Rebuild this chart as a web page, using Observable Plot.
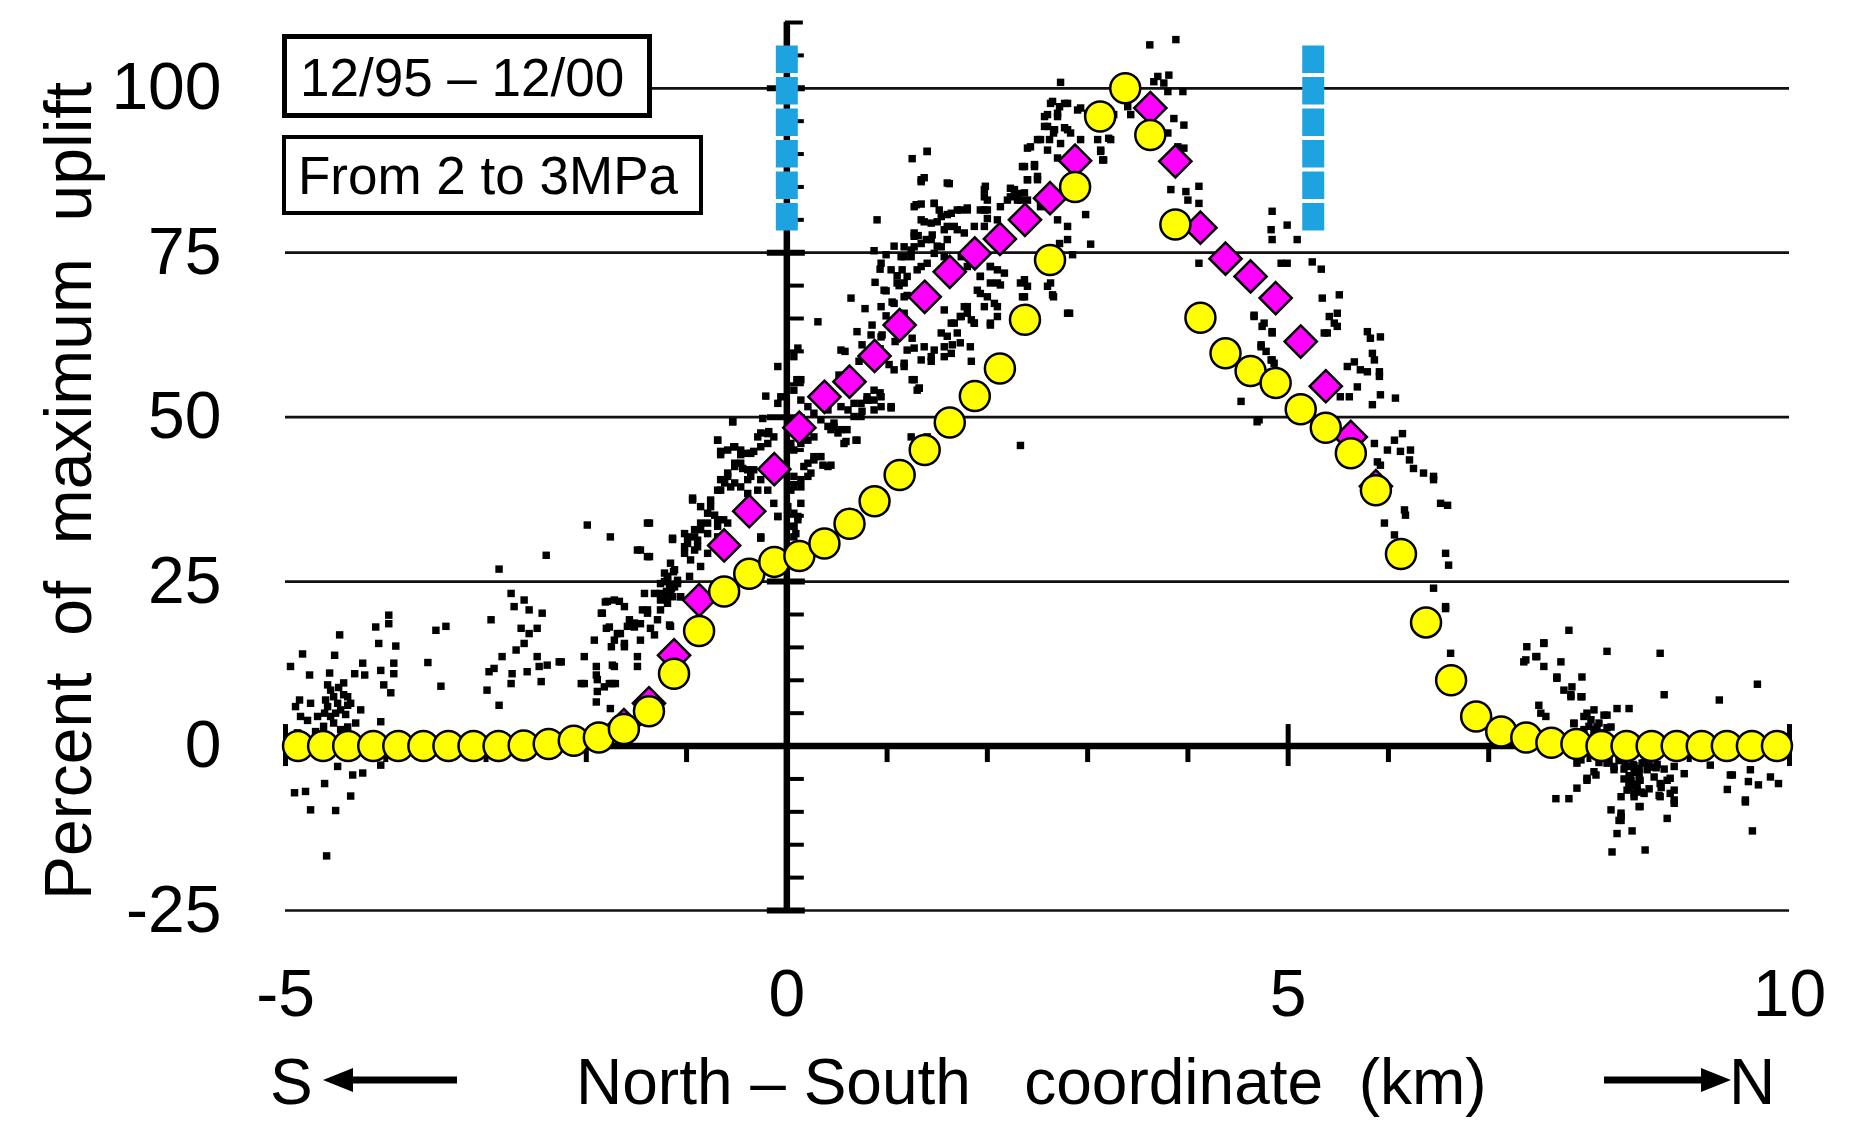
<!DOCTYPE html>
<html><head><meta charset="utf-8">
<script src="https://cdn.jsdelivr.net/npm/d3@7"></script>
<script src="https://cdn.jsdelivr.net/npm/@observablehq/plot@0.6"></script>
<style>
body{margin:0;background:#fff;}
#wrap{position:relative;width:1851px;height:1139px;font-family:"Liberation Sans",Arial,sans-serif;color:#000;overflow:hidden;}
#wrap svg{position:absolute;left:0;top:0;}
.box{position:absolute;box-sizing:border-box;border-style:solid;border-color:#000;background:#fff;white-space:pre;font-size:53px;line-height:53px;}
.lab{position:absolute;white-space:pre;font-size:64px;line-height:64px;}
#ytitle{position:absolute;white-space:pre;font-size:66px;line-height:66px;left:68px;top:491px;transform:translate(-50%,-50%) rotate(-90deg);}
.arrow{position:absolute;}
</style></head>
<body><div id="wrap"></div>
<script>
// ---- data ----
const periodLabel = "12/95 \u2013 12/00";
const pressureLabel = "From 2 to 3MPa";
const yTitle = "Percent  of  maximum  uplift";
const xTitle = "North \u2013 South   coordinate  (km)";
const southLabel = "S";
const northLabel = "N";

const xTicks = [-5, 0, 5, 10];
const yTicks = [-25, 0, 25, 50, 75, 100];
const gridPct = [100, 75, 50, 25, -25];
const xMinorKm = [-4, -3, -2, -1, 1, 2, 3, 4, 6, 7, 8, 9];
const xMajorKm = [-5, 5, 10];
const yMinorPct = [-20, -15, -10, -5, 5, 10, 15, 20, 30, 35, 40, 45, 55, 60, 65, 70, 80, 85, 90, 95, 105];
const yMajorPct = [-25, 25, 50, 75, 100];
const yTopPct = [110];
const axisKm = 0;
const yAxisFrom = -25, yAxisTo = 110;

const blueKm = [0, 5.25];
const blueFrom = 78.3, blueTo = 106.5;

const modelKm = [-4.875,-4.625,-4.375,-4.125,-3.875,-3.625,-3.375,-3.125,-2.875,-2.625,
  -2.375,-2.125,-1.875,-1.625,-1.375,-1.125,-0.875,-0.625,-0.375,-0.125,
  0.125,0.375,0.625,0.875,1.125,1.375,1.625,1.875,2.125,2.375,
  2.625,2.875,3.125,3.375,3.625,3.875,4.125,4.375,4.625,4.875,
  5.125,5.375,5.625,5.875,6.125,6.375,6.625,6.875,7.125,7.375,
  7.625,7.875,8.125,8.375,8.625,8.875,9.125,9.375,9.625,9.875];
const yellowPct = [0,0,0,0,0,0,0,0,0,0.1,
  0.3,0.8,1.3,2.6,5.3,11,17.5,23.5,26.2,28,
  28.9,30.8,33.8,37.2,41.2,45,49.2,53.2,57.4,64.8,
  73.9,85,95.7,100,92.9,79.3,65.1,59.7,57,55.2,
  51.2,48.4,44.5,38.9,29.2,18.8,10,4.5,2.2,1.3,
  0.5,0.3,0,0,0,0,0,0,0,0];

const magentaKm = [-1.625,-1.375,-1.125,-0.875,-0.625,-0.375,-0.125,0.125,0.375,0.625,
  0.875,1.125,1.375,1.625,1.875,2.125,2.375,2.625,2.875,3.625,
  3.875,4.125,4.375,4.625,4.875,5.125,5.375,5.625,5.875];
const magentaPct = [3.2,6.5,13.8,22.2,30.5,35.7,42.1,48.4,53.1,55.4,
  59.3,64,68.3,72.1,74.9,77.1,80,83.3,89,97,
  88.9,78.8,74.1,71.4,68.1,61.5,54.7,47,39.5];

const observed = [
[-1.99,33.6],[-1.76,31.8],[-1.39,33.9],[-1.14,31.4],[-1.49,29.8],[-1.37,28.8],[-2.40,29.0],[-2.87,26.9],
[-1.19,25.7],[-1.17,24.5],[-1.20,23.5],[-1.15,24.0],[-1.22,25.0],[-1.16,22.8],[-1.13,26.5],
[-1.42,23.2],[-1.26,22.2],[-1.14,22.7],[-1.39,20.7],[-1.26,20.7],[-1.17,18.4],[-1.81,21.9],[-1.72,22.2],[-1.62,21.2],[-1.84,20.2],[-1.77,18.1],[-1.69,17.1],[-1.62,15.6],[-1.52,18.1],[-1.46,18.6],[-1.36,17.9],[-1.32,16.9],[-1.92,16.1],[-1.72,16.1],[-1.57,19.2],[-1.49,13.6],[-1.49,12.1],[-2.02,13.6],[-1.90,12.1],[-1.74,12.3],[-1.90,10.8],[-2.02,9.5],[-1.89,8.3],[-1.77,9.5],[-1.71,9.5],[-1.90,6.7],[-1.76,5.7],
[-2.75,23.2],[-2.72,21.2],[-2.62,22.2],[-2.57,20.7],[-2.44,20.2],[-2.95,19.2],[-2.65,17.9],[-2.49,17.9],[-2.57,17.1],[-2.62,15.6],[-2.70,14.6],[-2.84,13.6],[-2.92,11.8],[-2.97,11.3],[-2.74,11.0],[-2.59,11.3],[-2.47,12.1],[-2.39,12.3],[-2.27,12.8],[-2.49,13.6],[-2.45,9.8],[-2.75,9.5],[-2.99,8.5],[-2.87,6.2],[-3.58,12.7],
[-4.46,16.9],[-4.10,18.1],[-3.97,19.9],[-3.97,18.6],[-3.50,17.6],[-3.40,18.2],[-4.07,15.6],[-3.90,15.2],[-3.45,9.1],[-4.83,14.0],[-4.51,13.8],[-4.95,12.1],[-4.76,10.8],[-4.56,11.1],[-4.31,11.0],[-4.23,12.6],[-4.21,10.8],[-4.05,11.5],[-3.92,12.6],[-3.92,11.0],[-4.02,9.3],[-3.95,8.1],[-4.05,3.7],[-4.86,7.0],[-4.75,6.5],
[-4.55,8.5],[-4.52,7.5],[-4.48,6.5],[-4.58,6.0],[-4.45,5.5],[-4.50,5.0],[-4.42,7.8],[-4.60,7.0],[-4.38,6.2],[-4.55,4.5],[-4.47,8.9],[-4.40,4.8],
[-4.38,7.5],[-4.25,5.5],[-4.61,5.0],[-4.35,6.5],[-4.78,3.9],[-4.68,4.5],[-4.85,4.5],[-4.38,2.9],[-4.90,6.0],
[-4.52,3.5],[-4.45,2.5],[-4.62,3.0],[-4.30,3.5],[-4.70,2.2],[-4.88,2.0],[-4.42,9.6],[-4.58,9.3],
[-4.48,-3.1],[-4.33,-4.4],[-4.23,-4.1],[-4.61,-5.7],[-4.91,-7.1],[-4.80,-6.9],[-4.35,-7.6],[-4.75,-9.7],[-4.50,-9.8],[-4.59,-16.7],[-4.05,-2.9],
[-0.21,53.2],[-0.09,52.1],[-0.24,49.8],[-0.54,49.3],[0.07,54.1],[0.14,52.6],[0.21,51.6],[0.27,50.6],[0.34,49.6],[0.41,48.6],[0.47,49.1],[0.54,48.1],[0.61,51.1],[0.67,50.1],[0.74,52.1],[0.80,53.1],[0.87,52.6],[0.94,51.6],[1.04,51.4],[1.32,54.4],
[0.59,46.3],[0.69,46.5],[0.44,48.1],[0.51,47.6],[0.27,47.0],[0.21,46.5],[0.14,46.0],[0.04,46.0],[0.07,45.0],[0.27,43.5],[0.34,44.0],[0.41,42.5],[0.21,41.0],[0.14,40.5],[0.14,39.4],[0.04,38.9],[0.01,36.4],[0.07,35.4],[0.11,34.4],[0.07,33.4],[0.07,31.8],[-0.09,34.9],[-0.26,31.8],
[-0.26,47.6],[-0.18,47.8],[-0.13,47.0],[-0.19,46.0],[-0.26,45.5],[-0.36,44.5],[-0.46,44.3],[-0.52,45.5],[-0.59,45.0],[-0.69,46.5],[-0.66,44.8],[-0.44,42.2],[-0.52,43.0],[-0.59,41.5],[-0.66,40.5],[-0.52,40.0],[-0.39,40.5],[-0.26,40.5],[-0.19,38.9],[-0.33,42.0],[-0.69,38.9],[-0.76,37.4],[-0.86,36.4],[-0.79,35.4],[-0.69,34.4],[-0.59,33.9],[-0.86,33.9],[-0.92,32.9],[-0.79,32.3],[-0.99,31.8],[-1.02,30.3],[-0.92,29.8],[-0.79,29.3],[-0.89,31.3],[-0.69,31.8],[-0.94,37.7],
[-1.16,27.8],[-1.22,26.3],[-1.19,25.2],[-1.12,24.2],[-1.06,22.7],[-1.26,23.2],[-1.19,21.7],[-1.09,25.2],[-1.16,23.2],[-1.44,20.7],[-1.39,20.2],[-1.29,19.2],[-1.16,18.2],[-1.67,22.0],[-1.79,22.0],[-1.85,20.2],[-1.80,17.9],[-1.66,17.1],[-1.59,18.2],[-1.52,18.7],[-1.46,16.1],[-1.75,15.1],[-1.62,15.1],[-1.72,12.1],[-1.89,10.1],[-2.05,9.5],[-1.82,9.0],[-1.74,9.5],[-2.25,12.8],[-0.26,31.6],[-0.86,27.3],[-0.97,25.8],
[0.11,60.5],[0.07,59.2],[-0.09,57.7],[0.54,60.2],[0.14,55.7],[-0.06,53.1],[-0.54,49.3],[-0.29,47.0],[-0.19,47.5],[-0.69,46.5],[-0.66,44.3],[-0.53,45.5],[-0.46,45.0],[-0.39,44.5],[-0.33,44.8],[-0.46,43.0],[-0.52,42.5],[-0.39,42.0],[-0.36,41.0],[-0.59,41.0],[-0.62,40.0],[-0.66,38.9],[-0.56,39.4],[-0.46,39.4],[-0.39,38.4],[-0.29,38.9],
[-0.76,36.4],[-0.72,35.1],[-0.79,33.9],[-0.69,33.4],[-0.63,34.4],[-0.86,32.9],[-0.92,31.8],[-0.99,30.8],[-0.89,30.3],[-1.02,29.3],[-0.96,28.3],[-1.12,26.8],[-1.19,25.8],[-1.26,24.7],[-1.16,23.7],[-1.09,24.7],[-1.32,23.2],[-1.22,22.7],[-1.06,22.7],[-1.37,33.9],[-1.46,29.8],[-1.39,28.8],[-1.14,31.6],[-1.02,32.3],[-0.94,37.4],[-0.09,34.9],[-0.13,36.9],
[0.07,41.0],[0.07,39.4],[0.17,42.5],[0.14,36.9],[0.11,34.9],[0.07,33.4],[0.09,32.3],[0.27,44.0],[0.21,43.0],[0.36,42.7],[0.44,42.7],[0.24,41.5],[0.47,48.6],[0.60,48.1],[0.70,46.5],[0.57,46.0],[0.41,51.1],[0.54,51.6],[0.67,52.1],[0.80,52.6],[0.87,51.1],[0.74,50.1],[0.87,54.1],[0.94,53.1],[1.04,51.6],[1.17,58.2],[1.07,57.2],[1.27,55.7],[1.30,54.1],[0.84,62.5],[0.94,62.2],
[3.62,106.6],[3.88,107.4],[2.73,100.9],[3.70,101.8],[3.81,102.0],[3.66,101.0],[3.76,100.8],[3.80,99.5],[3.95,99.5],[2.65,98.0],[2.72,97.2],[2.80,97.7],[2.60,96.0],[2.70,95.7],[2.57,94.2],[2.67,93.7],[2.77,94.0],[2.83,93.2],[2.93,92.2],[2.62,92.2],[2.50,92.2],[2.40,90.9],[2.70,89.4],[2.47,88.4],[2.35,88.1],[2.93,97.0],[3.00,96.2],[3.26,96.0],[3.10,92.2],[3.21,92.4],[3.13,90.4],[3.15,89.1],[3.40,97.2],[3.43,96.0],[3.86,95.4],[3.96,94.4],[3.80,93.2],[3.90,91.1],[3.96,90.9],[3.83,84.6],[3.98,84.3],[4.00,83.0],[4.11,85.1],[4.11,82.5],[4.84,81.3],[4.83,78.5],[4.99,79.2],[4.84,77.0],[5.09,77.0],[4.93,73.4],[4.99,73.4],[4.11,73.4],[4.66,65.3],[4.74,63.8],[4.84,62.8],[4.73,61.0],[4.83,58.7],[4.86,58.2],[4.53,52.4],[4.71,49.6],
[2.63,97.7],[2.77,97.7],[2.70,96.2],[2.57,95.7],[2.60,94.2],[2.66,93.2],[2.80,93.7],[2.53,92.2],[2.43,91.1],[2.60,90.6],[2.73,91.6],[2.90,96.7],[3.23,92.2],[3.13,90.6],[3.16,89.1],
[2.37,88.1],[2.47,88.1],[2.40,86.1],[2.50,86.1],[2.27,84.6],[2.37,84.1],[2.20,83.0],[2.30,83.0],[1.97,84.6],[2.00,83.0],[1.93,81.5],[2.00,81.5],[1.34,86.1],[1.60,85.6],[1.40,90.4],
[1.25,89.3],[1.40,90.4],[1.34,85.8],[1.62,85.5],[1.98,85.1],[1.97,83.5],[2.23,84.8],[2.30,84.0],[2.33,83.0],[2.40,86.1],[2.50,86.6],[2.23,83.5],[2.13,82.0],[1.97,81.5],[2.00,80.2],[1.29,82.3],[1.47,82.5],[1.52,81.5],[1.70,81.5],[1.80,81.8],[1.60,80.8],[1.50,79.7],[1.37,79.7],[1.27,78.0],[1.39,77.0],[1.45,77.7],[1.57,78.5],[1.67,79.0],[1.77,78.0],[1.87,79.0],[1.97,79.0],[2.10,80.0],[2.40,83.0],[2.53,82.0],
[1.27,82.0],[1.47,82.5],[1.34,80.0],[1.44,79.5],[1.54,80.5],[1.64,81.0],[1.73,81.5],[1.80,81.5],[1.60,79.0],[1.70,78.5],[1.27,77.5],[1.34,76.4],[1.24,75.4],[1.07,76.0],[1.44,77.0],[1.50,76.0],[1.60,77.0],[0.94,73.4],[1.04,72.4],[1.14,74.4],[0.97,69.3],[1.10,70.4],[1.20,71.4],[1.30,72.4],[1.40,73.4],[0.94,66.8],[1.07,67.3],[1.17,68.3],[1.37,69.3],
[1.27,75.9],[1.24,74.4],[1.17,74.4],[1.15,72.4],[1.17,70.4],[1.34,72.9],[1.47,74.9],[1.54,75.9],[1.57,74.4],[1.74,74.4],[1.80,72.9],[1.93,74.9],[2.03,72.9],[2.10,72.4],[2.17,71.9],[1.93,71.4],[2.03,70.4],[2.13,70.1],[1.93,68.8],[1.97,66.8],[2.07,67.3],[2.10,65.3],[2.03,64.0],[1.80,65.8],[1.87,64.3],[1.74,65.3],[1.64,64.3],[1.57,66.3],[1.77,66.8],[1.84,64.8],[1.70,62.8],[1.65,61.0],[1.54,62.8],[1.47,60.2],[1.37,60.7],[1.27,60.5],[1.20,60.2],[1.34,58.7],[1.44,58.5],[1.64,59.7],[1.84,58.5],[1.57,59.2],[1.25,55.7],[1.32,54.4],[1.17,57.7],
[1.93,71.4],[2.03,72.9],[2.10,70.4],[1.90,69.3],[2.00,68.3],[1.80,66.8],[1.73,65.3],[1.87,64.3],[1.67,64.3],[1.60,62.3],[1.73,61.3],[1.57,60.7],[1.44,59.2],[1.83,60.7],[2.33,70.4],[2.37,68.3],[2.63,70.4],[2.66,68.3],[2.10,66.8],[2.03,64.3],[2.80,65.8],
[2.37,70.9],[2.40,69.9],[2.35,68.3],[2.60,69.9],[2.65,68.6],[2.82,65.8],[2.70,74.4],[2.85,74.7],[2.72,76.4],[3.03,76.3],[2.80,77.0],[2.98,80.8],[2.70,80.0],[2.80,79.0],[1.40,47.0],[1.24,47.0],[2.33,45.7],
[0.90,80.0],[1.37,86.4],[1.34,82.4],[0.87,75.3],[0.99,74.7],[1.17,75.9],[1.31,77.6],[0.93,72.5],[1.10,71.5],[0.99,69.2],[0.64,68.1],[0.78,66.5],[0.31,64.5],[0.99,65.4],[1.17,65.8],[1.25,62.0],[0.75,61.0],[0.93,60.4],[0.87,58.1],[0.66,56.0],[0.52,56.4],[0.81,52.6],[0.75,50.9],[0.93,53.7],[0.10,55.7],
[0.70,63.0],[0.85,64.0],[1.05,67.5],[1.12,70.0],[0.95,62.5],[1.02,58.0],[0.58,60.0],[0.72,58.5],[1.08,61.5],[0.88,70.5],[1.20,68.5],
[5.34,68.1],[5.51,68.6],[5.41,65.3],[5.49,65.8],[5.49,63.8],[5.39,62.8],[5.46,64.3],[5.36,62.8],[4.66,65.5],[4.76,64.3],[4.84,63.0],[4.73,60.7],[4.78,60.0],[4.84,58.7],[5.79,63.0],[5.82,62.0],[5.92,62.2],[5.84,59.7],[5.86,58.7],[5.59,57.7],[5.66,58.4],[5.72,57.2],[5.79,56.9],[5.91,56.9],[5.91,56.2],[5.69,54.6],[5.61,53.1],[5.92,53.4],[5.84,51.9],[6.07,52.9],[5.52,53.1],[4.69,49.3],[6.14,47.5],[6.06,46.5],[5.99,45.0],[6.12,44.8],[6.22,45.0],[6.21,43.5],[6.25,42.2],[6.35,41.5],[6.45,41.0],[6.45,40.5],[5.86,46.0],[5.89,43.2],[5.92,42.7],[6.52,36.9],[6.59,36.6],[6.16,35.9],[6.17,35.1],[5.96,33.9],[6.06,32.1],[6.57,29.3],[6.60,27.5],[6.45,24.0],[6.57,20.9],[6.62,14.1],[5.24,73.6],[5.33,72.5],
[7.80,17.6],[7.55,15.6],[7.38,15.1],[7.37,13.1],[7.48,13.6],[7.72,12.8],[7.55,12.1],[8.18,14.4],[7.93,10.5],[7.68,10.5],
[6.57,21.2],[7.55,15.7],[7.35,12.8],[7.47,13.6],[7.68,10.3],[7.75,8.5],[7.83,9.0],[7.82,7.5],[7.93,7.5],[7.50,6.2],[7.52,5.0],[7.57,4.5],[8.71,14.1],[8.75,7.8],[9.30,7.0],[9.68,9.4],[8.28,5.7],[8.40,5.7],[7.98,5.0],[8.05,5.5],[8.02,4.0],[7.95,4.5],[8.08,2.9],[7.85,3.5],[8.18,4.7],[8.22,2.9],
[8.05,1.5],[8.12,2.0],[8.00,1.0],[8.15,0.8],[8.00,3.0],[8.05,2.5],[8.10,3.5],[8.08,1.8],[7.95,2.5],[8.12,1.2],[8.18,2.8],[7.92,7.5],[7.82,7.8],[8.15,4.7],[7.85,3.4],
[7.88,-2.6],[8.07,-4.4],[7.98,-5.2],[7.88,-6.4],[7.67,-8.0],[7.80,-8.0],[8.18,-2.6],[8.25,-3.6],[8.38,-3.1],[8.41,-4.7],[8.48,-6.2],[8.45,-7.2],[8.51,-5.2],[8.58,-3.6],[8.65,-4.7],[8.71,-5.7],[8.78,-5.2],[8.85,-3.1],[8.81,-7.2],[8.85,-8.2],[8.70,-7.5],[8.32,-7.7],[8.22,-9.7],[8.32,-10.2],[8.32,-11.3],[8.50,-9.2],[8.28,-13.3],[8.43,-12.9],[8.23,-16.1],[8.56,-15.8],[8.78,-11.0],[8.95,-4.2],[9.21,-2.9],[9.43,-4.4],[9.38,-6.6],[9.59,-5.4],[9.69,-5.9],[9.81,-4.7],[9.89,-5.7],[9.56,-8.5],[9.63,-12.9],[9.61,-3.6],
[8.45,-3.0],[8.50,-4.0],[8.55,-2.5],[8.62,-3.2],[8.40,-5.5],[8.60,-6.5],[8.68,-2.8],[8.75,-3.5],[8.35,-2.2],[8.52,-7.0],[8.42,-6.0],[8.72,-6.3],
[7.92,-2.1],[8.05,-3.9],[7.98,-4.9],[8.25,-3.1],[8.42,-5.2],[8.48,-6.7],[8.38,-6.7],[8.45,-7.7],[8.55,-7.2],[8.81,-4.9],[8.85,-6.7],[8.71,-7.7],[8.85,-8.7],[8.51,-9.2],[8.32,-10.7],[8.30,-11.3],[9.41,-4.4],[9.56,-8.2],
[8.35,-3.5],[8.40,-4.5],[8.45,-4.0],[8.35,-5.0],[8.45,-5.8],[8.40,-6.2],[8.50,-3.4],[8.50,-5.0],[8.36,-2.5],[8.44,-2.8],[8.53,-2.6],[8.60,-3.0],[8.67,-3.3],[8.20,-2.2],[8.10,-2.5],[8.30,-2.2]
];

// ---- tick glyphs (styles only: lengths in px relative to the scaled point) ----
const hTick = (a, b) => ({draw(ctx) { ctx.moveTo(a, 0); ctx.lineTo(b, 0); }});
const vTick = (a, b) => ({draw(ctx) { ctx.moveTo(0, a); ctx.lineTo(0, b); }});

const yellowData = modelKm.map((x, i) => ({x, y: yellowPct[i]}));
const magentaData = magentaKm.map((x, i) => ({x, y: magentaPct[i]}));

const chart = Plot.plot({
  width: 1851, height: 1139,
  marginTop: 22, marginBottom: 229, marginLeft: 285, marginRight: 62,
  x: {domain: [-5, 10]},
  y: {domain: [-25, 110]},
  style: {fontFamily: "Liberation Sans, Arial, sans-serif", background: "white", color: "black"},
  marks: [
    Plot.ruleY(gridPct, {stroke: "#111", strokeWidth: 2.7}),
    Plot.ruleY([0], {stroke: "#000", strokeWidth: 6.5}),
    Plot.ruleX([axisKm], {y1: yAxisFrom, y2: yAxisTo, stroke: "#000", strokeWidth: 6.5}),
    Plot.dot(yMinorPct, {x: () => axisKm, y: d => d, symbol: hTick(0, 17), stroke: "#000", strokeWidth: 4, fill: "none"}),
    Plot.dot(yMajorPct, {x: () => axisKm, y: d => d, symbol: hTick(-20, 18), stroke: "#000", strokeWidth: 6, fill: "none"}),
    Plot.dot(yTopPct, {x: () => axisKm, y: d => d, symbol: hTick(-2, 16), stroke: "#000", strokeWidth: 4, fill: "none"}),
    Plot.dot(xMinorKm, {x: d => d, y: () => 0, symbol: vTick(0, 16), stroke: "#000", strokeWidth: 5, fill: "none"}),
    Plot.dot(xMajorKm, {x: d => d, y: () => 0, symbol: vTick(-22, 20), stroke: "#000", strokeWidth: 5, fill: "none"}),
    Plot.ruleX(blueKm, {y1: blueFrom, y2: blueTo, stroke: "#1ea3e1", strokeWidth: 22, strokeDasharray: "27.5,4"}),
    Plot.axisY({ticks: yTicks, tickSize: 0, tickPadding: 64, fontSize: 66, label: null, tickFormat: d => String(d)}),
    Plot.axisX({ticks: xTicks, tickSize: 0, tickPadding: 59, fontSize: 66, label: null, tickFormat: d => String(d)}),
    Plot.dot(observed, {x: d => d[0], y: d => d[1], symbol: "square", r: 4.2, fill: "#000", stroke: "none"}),
    Plot.dot(magentaData, {x: "x", y: "y", symbol: "diamond2", r: 14.5, fill: "#ff00ff", stroke: "#000", strokeWidth: 2.5}),
    Plot.dot(yellowData, {x: "x", y: "y", r: 15, fill: "#ffff00", stroke: "#000", strokeWidth: 2.5})
  ]
});

const wrap = document.getElementById("wrap");
wrap.appendChild(chart);

function addDiv(cls, text, css, id) {
  const d = document.createElement("div");
  if (cls) d.className = cls;
  if (id) d.id = id;
  d.textContent = text;
  Object.assign(d.style, css || {});
  wrap.appendChild(d);
  return d;
}
addDiv("box", periodLabel, {left: "282px", top: "34px", width: "370px", height: "84px", borderWidth: "5px", paddingLeft: "13px", paddingTop: "12px"});
addDiv("box", pressureLabel, {left: "282px", top: "135px", width: "421px", height: "80px", borderWidth: "4px", paddingLeft: "12px", paddingTop: "10px"});
addDiv(null, yTitle, {}, "ytitle");
addDiv("lab", southLabel, {left: "270px", top: "1050px"});
addDiv("lab", xTitle, {left: "576px", top: "1050px"});
addDiv("lab", northLabel, {left: "1729px", top: "1050px"});

const ns = "http://www.w3.org/2000/svg";
function arrow(left, width, leftHead) {
  const s = document.createElementNS(ns, "svg");
  s.setAttribute("width", width); s.setAttribute("height", 30);
  s.setAttribute("class", "arrow");
  s.style.left = left + "px"; s.style.top = "1065px";
  const line = document.createElementNS(ns, "line");
  const poly = document.createElementNS(ns, "polygon");
  if (leftHead) {
    line.setAttribute("x1", 25); line.setAttribute("x2", width);
    poly.setAttribute("points", "3,15 33,3 33,27");
  } else {
    line.setAttribute("x1", 0); line.setAttribute("x2", width - 25);
    poly.setAttribute("points", `${width - 3},15 ${width - 33},3 ${width - 33},27`);
  }
  line.setAttribute("y1", 15); line.setAttribute("y2", 15);
  line.setAttribute("stroke", "#000"); line.setAttribute("stroke-width", 7);
  poly.setAttribute("fill", "#000");
  s.appendChild(line); s.appendChild(poly);
  wrap.appendChild(s);
}
arrow(320, 137, true);
arrow(1604, 130, false);
</script>
</body></html>
